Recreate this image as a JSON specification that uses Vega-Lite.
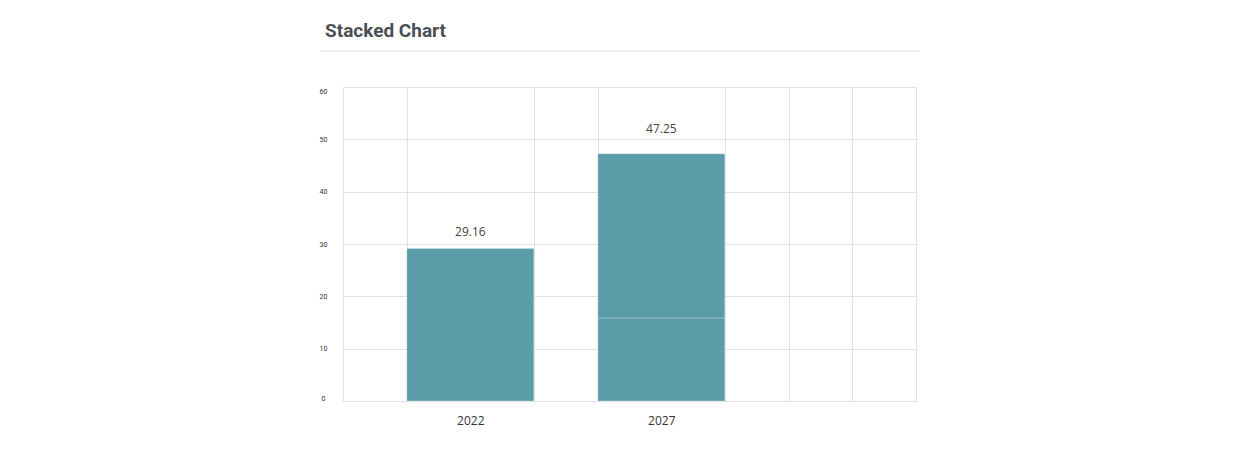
{
  "$schema": "https://vega.github.io/schema/vega-lite/v6.json",
  "width": 573,
  "height": 314,
  "autosize": {"type": "none"},
  "padding": {"left": 343, "top": 87, "right": 324, "bottom": 49},
  "background": "white",
  "title": {
    "text": "Stacked Chart",
    "anchor": "start",
    "frame": "group",
    "font": "Roboto",
    "fontSize": 19,
    "fontWeight": "bold",
    "color": "#4a4f55",
    "baseline": "alphabetic",
    "dx": -18,
    "offset": -6
  },
  "config": {"view": {"stroke": null}},
  "data": {
    "values": [
      {"year": 2022, "series": "A", "value": 29.16},
      {"year": 2027, "series": "A", "value": 15.86},
      {"year": 2027, "series": "B", "value": 31.39}
    ]
  },
  "layer": [
    {
      "mark": {"type": "bar", "width": 127, "color": "#5c9ca8", "stroke": "#ffffff", "strokeOpacity": 0.25, "strokeWidth": 1},
      "encoding": {
        "x": {
          "field": "year",
          "type": "quantitative",
          "scale": {"domain": [2018.6667, 2033.6667], "nice": false, "zero": false, "padding": 0},
          "axis": {
            "title": null,
            "values": [2018.6667, 2020.3333, 2022, 2023.6667, 2025.3333, 2027, 2028.6667, 2030.3333, 2032, 2033.6667],
            "format": "d",
            "labelExpr": "(datum.value == 2022 || datum.value == 2027) ? datum.label : ''",
            "labelFont": "Open Sans",
            "labelFontSize": 12,
            "labelColor": "#333333",
            "labelPadding": 14,
            "labelOverlap": false,
            "labelFlush": false,
            "ticks": false,
            "domain": false,
            "grid": true,
            "gridColor": "#e2e2e2",
            "gridOpacity": {"condition": {"test": "datum.value == 2022 || datum.value == 2027", "value": 0}, "value": 1}
          }
        },
        "y": {
          "field": "value",
          "type": "quantitative",
          "aggregate": "sum",
          "stack": "zero",
          "scale": {"domain": [0, 60], "nice": false},
          "axis": {
            "title": null,
            "values": [0, 10, 20, 30, 40, 50, 60],
            "labelFont": "Roboto",
            "labelFontSize": 7,
            "labelColor": "#333333",
            "labelAlign": "center",
            "labelPadding": 20,
            "labelFlush": true,
            "ticks": false,
            "domain": false,
            "grid": true,
            "gridColor": "#e2e2e2"
          }
        },
        "detail": {"field": "series"},
        "order": {"field": "series"}
      }
    },
    {
      "transform": [{"aggregate": [{"op": "sum", "field": "value", "as": "total"}], "groupby": ["year"]}],
      "mark": {"type": "text", "font": "Open Sans", "fontSize": 12, "color": "#444444", "baseline": "middle", "dy": {"expr": "-(3 + 0.464 * datum.total)"}},
      "encoding": {
        "x": {"field": "year", "type": "quantitative"},
        "y": {"field": "total", "type": "quantitative", "stack": null},
        "text": {"field": "total", "type": "quantitative", "format": ".2f"}
      }
    },
    {
      "data": {"values": [{}]},
      "mark": {"type": "rule", "color": "#dddddd", "strokeWidth": 1, "clip": false},
      "encoding": {
        "x": {"datum": 2018.0646},
        "x2": {"datum": 2033.7714},
        "y": {"datum": 66.88}
      }
    }
  ]
}
